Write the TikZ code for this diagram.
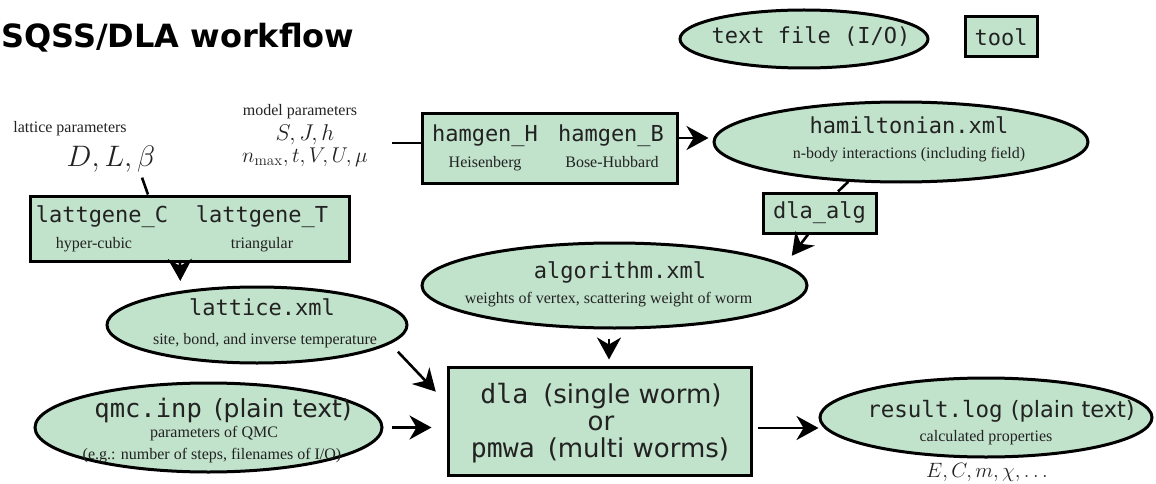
\documentclass[tikz,border=0pt]{standalone}
\usepackage{fontspec}
\usepackage{graphicx}
\usetikzlibrary{arrows.meta,shapes.geometric}
\newfontfamily\monof{DejaVu Sans Mono}
\newfontfamily\sansf{DejaVu Sans}
\newfontfamily\serf{Liberation Serif}
\definecolor{nodefill}{RGB}{193,226,203}
\definecolor{inktext}{RGB}{34,34,34}
\newcommand\mon[1]{\monof\fontsize{#1}{#1}\selectfont}
\newcommand\san[1]{\sansf\fontsize{#1}{#1}\selectfont}
\newcommand\sml{\serf\fontsize{16}{18}\selectfont}
\newcommand\mth[1]{\fontsize{#1}{#1}\selectfont}
\begin{document}
\begin{tikzpicture}[x=1pt,y=-1pt,
  filenode/.style={ellipse, draw=black, fill=nodefill, line width=3pt, inner sep=0pt},
  toolnode/.style={rectangle, draw=black, fill=nodefill, line width=3pt, inner sep=0pt, text=inktext},
  lbl/.style={inner sep=0pt, anchor=base, text=inktext},
  conn/.style={line width=2.6pt},
  arr/.style={line width=2.6pt, -{Stealth[length=22pt,width=24pt,inset=7pt]}}]
\useasboundingbox (0,0) rectangle (1156,484);

% title
\node[lbl, anchor=base west, text=black] (title) at (1,48) {\sansf\bfseries\fontsize{32}{36}\selectfont SQSS/DLA workflow};

% legend
\node[filenode, minimum width=248pt, minimum height=58pt] (leg1) at (804,39) {};
\node[lbl] (leg1t) at (811,44) {\mon{22}text file (I/O)};
\node[toolnode, minimum width=72pt, minimum height=40pt] (leg2) at (1001,37) {\mon{22}tool};

% lattice parameters
\node[lbl] (lp1) at (70,132) {\sml lattice parameters};
\node[lbl] (dlb) at (111,166) {\scalebox{1.19}{\mth{24}$D, L, \beta$}};

% model parameters
\node[lbl] (mp1) at (300,116) {\sml model parameters};
\node[lbl] (mp2) at (305,140) {\scalebox{1.1}{\mth{21}$S, J, h$}};
\node[lbl] (mp3) at (305,162) {\scalebox{1.03}{\mth{21}$n_{\max}, t, V, U, \mu$}};

% hamgen
\node[toolnode, minimum width=255pt, minimum height=69pt] (ham) at (549.5,148.5) {};
\node[lbl] (hamH) at (485,142) {\mon{22}hamgen\_H};
\node[lbl] (hamB) at (611,142) {\mon{22}hamgen\_B};
\node[lbl] (hamHs) at (485,167) {\sml Heisenberg};
\node[lbl] (hamBs) at (612,167) {\sml Bose-Hubbard};

% hamiltonian.xml
\node[filenode, minimum width=374pt, minimum height=80pt] (hml) at (901,142) {};
\node[lbl] (hmlt) at (909,133) {\mon{22}hamiltonian.xml};
\node[lbl] (hmls) at (909,158) {\sml n-body interactions (including field)};

% dla_alg
\node[toolnode, minimum width=113pt, minimum height=40pt] (dalg) at (819.5,213) {\mon{22}dla\_alg};

% lattgene
\node[toolnode, minimum width=319pt, minimum height=65pt] (lg) at (189.5,228.5) {};
\node[lbl] (lgC) at (102,222) {\mon{22}lattgene\_C};
\node[lbl] (lgT) at (262,222) {\mon{22}lattgene\_T};
\node[lbl] (lgCs) at (94,248) {\sml hyper-cubic};
\node[lbl] (lgTs) at (262,248) {\sml triangular};

% algorithm.xml
\node[filenode, minimum width=385pt, minimum height=85pt] (algx) at (614.5,285.5) {};
\node[lbl] (algt) at (620,278) {\mon{22}algorithm.xml};
\node[lbl] (algs) at (608.5,303) {\sml weights of vertex, scattering weight of worm};

% lattice.xml
\node[filenode, minimum width=300pt, minimum height=76pt] (lat) at (257,325) {};
\node[lbl] (latt) at (262,315) {\mon{22}lattice.xml};
\node[lbl] (lats) at (265,344) {\sml site, bond, and inverse temperature};

% qmc.inp
\node[filenode, minimum width=347pt, minimum height=89pt] (qmc) at (208.5,427.5) {};
\node[lbl] (qmct) at (223,417) {\mon{25.5}qmc.inp\hspace{12pt}\san{25}(plain text)};
\node[lbl] (qmcs1) at (214,437) {\sml parameters of QMC};
\node[lbl] (qmcs2) at (212,459) {\sml (e.g.: number of steps, filenames of I/O)};

% dla / pmwa
\node[toolnode, minimum width=303pt, minimum height=108pt] (dla) at (599.5,421) {};
\node[lbl] (dla1) at (601,403) {\mon{26.5}dla\hspace{15pt}\san{26}(single worm)};
\node[lbl] (dla2) at (601,430) {\san{26}or};
\node[lbl] (dla3) at (600,457) {\mon{26.5}pmwa\hspace{13pt}\san{26}(multi worms)};

% result.log
\node[filenode, minimum width=332pt, minimum height=79pt] (res) at (986,417.5) {};
\node[lbl] (rest) at (1001,417) {\mon{22.5}result.log\hspace{8pt}\san{22.5}(plain text)};
\node[lbl] (ress) at (986,441) {\sml calculated properties};
\node[lbl] (resm) at (987,477) {\mth{20}$E, C, m, \chi, \ldots$};

% connectors
\coordinate (mpend) at (392,143);
\draw[conn] (mpend) -- (mpend -| ham.west);
\draw[arr, shorten >=4pt] ([yshift=10.5pt]ham.east) -- ([yshift=10.5pt]ham.east -| hml.west);
\draw[conn] (hml.-143) -- ([xshift=18.5pt]dalg.north);
\draw[arr, shorten >=11pt] ([xshift=-11.5pt]dalg.south) -- (algx.7.8);
\draw[conn, shorten <=6pt] ([xshift=29pt]dlb.south) -- ([xshift=-41.5pt]lg.north);
\draw[arr, shorten >=10pt] ([xshift=-9.5pt]lg.south) -- (lat.156);
\draw[arr, shorten <=11pt, shorten >=15.6pt] (lat.-8.3) -- ([yshift=18pt]dla.west);
\draw[arr, shorten <=8pt, shorten >=15pt] (qmc.east) -- (qmc.east -| dla.west);
\draw[arr, shorten <=9pt, shorten >=6pt] ([xshift=-5.5pt]algx.south) -- ([xshift=-5.5pt]algx.south |- dla.north);
\draw[arr, shorten <=5pt] ([yshift=-7pt]dla.east) -- ([yshift=-7pt]dla.east -| res.west);
\end{tikzpicture}
\end{document}
